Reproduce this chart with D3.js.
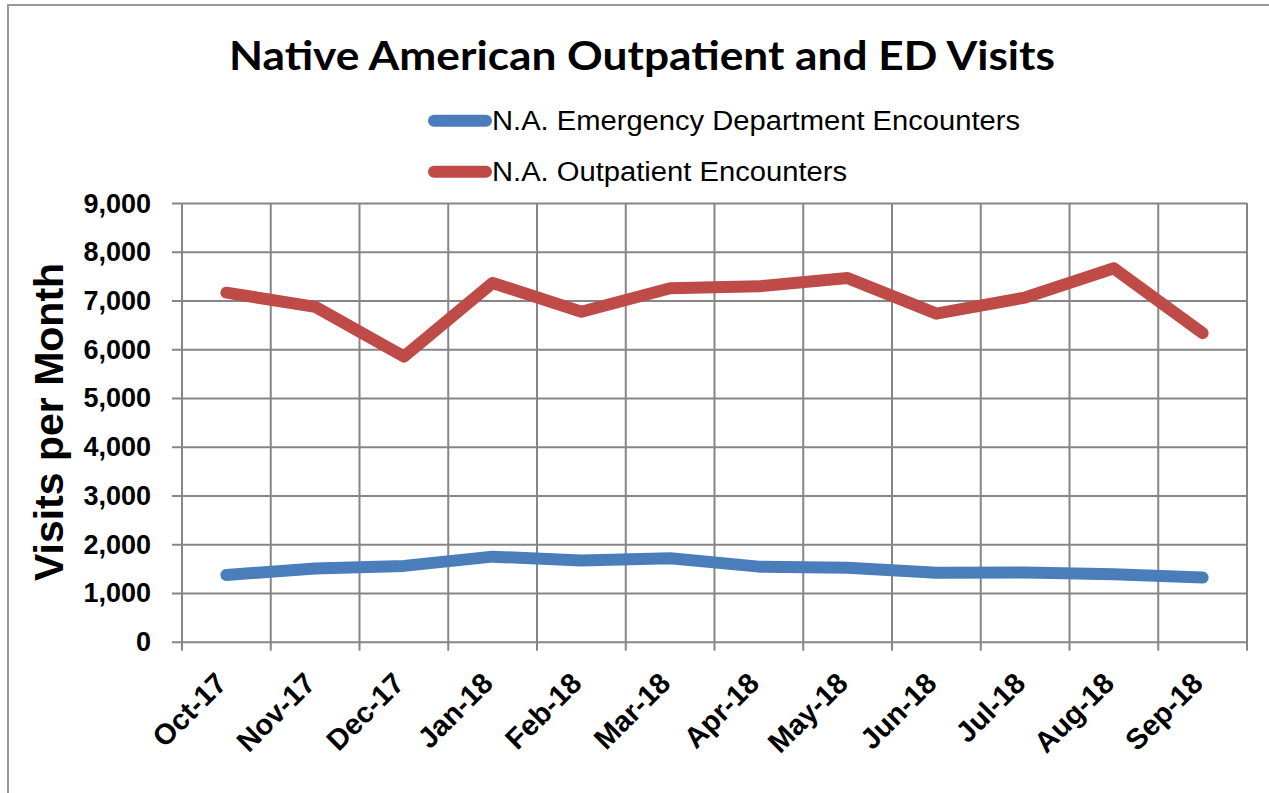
<!DOCTYPE html>
<html><head><meta charset="utf-8">
<script src="https://d3js.org/d3.v7.min.js"></script>
<style>body{margin:0;background:#fff}svg{display:block}</style>
</head><body>
<script>
const months = ["Oct-17","Nov-17","Dec-17","Jan-18","Feb-18","Mar-18","Apr-18","May-18","Jun-18","Jul-18","Aug-18","Sep-18"];
const edVisits = [1370,1500,1555,1745,1665,1712,1540,1515,1415,1420,1385,1315];
const outpatientVisits = [7160,6870,5850,7360,6770,7250,7290,7460,6730,7060,7660,6330];
const yTicks = [0,1000,2000,3000,4000,5000,6000,7000,8000,9000];
const seriesNames = ["N.A. Emergency Department Encounters","N.A. Outpatient Encounters"];
const colors = ["#4A7EBB","#BE4B48"];

(function(){
const W=1269,H=793;
const svg=d3.select("body").append("svg").attr("width",W).attr("height",H);
svg.append("rect").attr("x",8).attr("y",5).attr("width",1275).attr("height",800)
  .attr("fill","#fff").attr("stroke","#999").attr("stroke-width",2);

const pL=182,pR=1247,pT=203,pB=641.7;
const x=d3.scaleBand().domain(months).range([pL,pR]).padding(0);
const y=d3.scaleLinear().domain([0,9000]).range([pB,pT]);
const grid="#868686";

svg.append("g").attr("transform",`translate(${pL},0)`)
  .call(d3.axisLeft(y).tickValues(yTicks).tickSize(-(pR-pL)).tickFormat(""))
  .call(g=>g.select(".domain").remove())
  .call(g=>g.selectAll("line").attr("stroke",grid).attr("stroke-width",2).attr("x1",-10));
const edges=months.map(m=>x(m)).concat([pR]);
svg.append("g").selectAll("line").data(edges).join("line")
  .attr("x1",d=>d).attr("x2",d=>d).attr("y1",pT).attr("y2",pB+9)
  .attr("stroke",grid).attr("stroke-width",2);

svg.append("g").selectAll("text").data(yTicks).join("text")
  .attr("x",151).attr("y",d=>y(d)+9.5).attr("text-anchor","end")
  .attr("font-family","Liberation Sans, Arial, sans-serif").attr("font-weight","bold")
  .attr("font-size",27).text(d=>d3.format(",")(d));

svg.append("g").selectAll("text").data(months).join("text")
  .attr("transform",d=>`translate(${x(d)+x.bandwidth()/2+2},${685}) rotate(-45)`)
  .attr("text-anchor","end")
  .attr("font-family","Liberation Sans, Arial, sans-serif").attr("font-weight","bold")
  .attr("font-size",29).text(d=>d);

svg.append("text").attr("transform","translate(63,422) rotate(-90)")
  .attr("text-anchor","middle").attr("font-family","Liberation Sans, Arial, sans-serif")
  .attr("font-weight","bold").attr("font-size",41).text("Visits per Month");

const line=d3.line().x((d,i)=>x(months[i])+x.bandwidth()/2).y(d=>y(d));
[edVisits,outpatientVisits].forEach((s,k)=>{
  svg.append("path").datum(s).attr("d",line).attr("fill","none")
    .attr("stroke",colors[k]).attr("stroke-width",12)
    .attr("stroke-linecap","round").attr("stroke-linejoin","round");
});

svg.append("text").attr("x",642).attr("y",70).attr("text-anchor","middle")
  .attr("font-family","Lato, 'Open Sans', sans-serif").attr("font-weight","bold")
  .attr("font-size",40).attr("textLength",826).attr("lengthAdjust","spacingAndGlyphs")
  .text("Native American Outpatient and ED Visits");

const legY=[120.7,171.7], legLen=[528,355];
seriesNames.forEach((n,k)=>{
  svg.append("line").attr("x1",434).attr("x2",486).attr("y1",legY[k]).attr("y2",legY[k])
    .attr("stroke",colors[k]).attr("stroke-width",12).attr("stroke-linecap","round");
  svg.append("text").attr("x",492).attr("y",legY[k]+9.5)
    .attr("font-family","Liberation Sans, Arial, sans-serif").attr("font-size",27)
    .attr("textLength",legLen[k]).attr("lengthAdjust","spacingAndGlyphs").text(n);
});
})();
</script>
</body></html>
